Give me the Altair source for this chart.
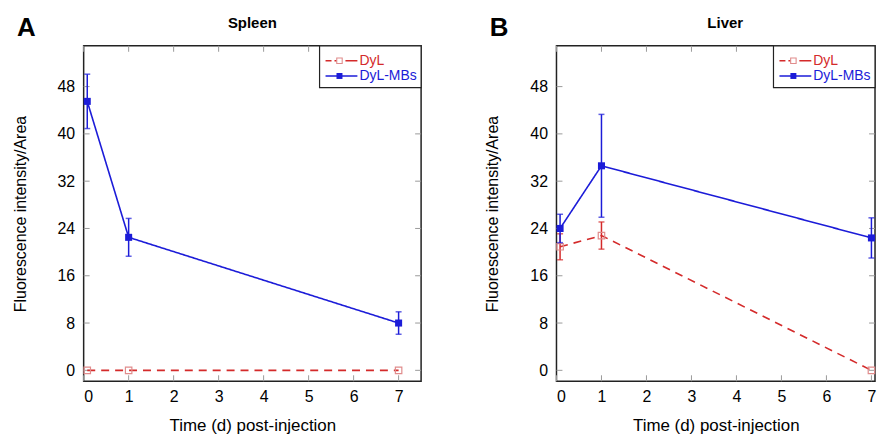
import altair as alt
import pandas as pd

# ---------------- data ----------------
times = [0.08, 1, 7]
series_names = ["DyL", "DyL-MBs"]

spleen_dyl = [0.0, 0.0, 0.0]
spleen_dyl_err = [0.0, 0.0, 0.0]
spleen_mbs = [45.5, 22.5, 8.0]
spleen_mbs_err = [4.6, 3.2, 1.9]

liver_dyl = [20.9, 22.8, 0.0]
liver_dyl_err = [2.2, 2.3, 0.0]
liver_mbs = [24.0, 34.6, 22.4]
liver_mbs_err = [2.4, 8.7, 3.4]

x_ticks = [0, 1, 2, 3, 4, 5, 6, 7]
y_ticks = [0, 8, 16, 24, 32, 40, 48]

# ---------------- styles ----------------
FONT = "Liberation Sans"
H = 337
PX_PER_DAY = 339 / 7.5
RED = "#d42a2a"
RED_MARK = "#e08c8c"
BLUE = "#1c1cd8"
TICK = "#9a9a9a"
styles = {
    "DyL": dict(color=RED, mark=RED_MARK, dash=[8, 6], legend_dash=[6, 3, 5, 6, 12], filled=False),
    "DyL-MBs": dict(color=BLUE, mark=BLUE, dash=[1, 0], legend_dash=[1, 0], filled=True),
}

yscale = alt.Scale(domain=[-1.85, 54.9], nice=False, zero=False)
xaxis = alt.Axis(values=x_ticks, labelPadding=7, titlePadding=13, format="d", titleFontSize=17)
yaxis = alt.Axis(values=y_ticks, labelPadding=9, titlePadding=29, format="d", titleFontSize=16)


def one_row():
    return alt.Chart(pd.DataFrame({"a": [0]}))


def panel(title, letter, dyl, dyl_err, mbs, mbs_err, W):
    xscale = alt.Scale(domain=[0, W / PX_PER_DAY], nice=False, zero=False)

    def X(f):
        return alt.X(f"{f}:Q", scale=xscale, axis=xaxis, title="Time (d) post-injection")

    def Y(f):
        return alt.Y(f"{f}:Q", scale=yscale, axis=yaxis, title="Fluorescence intensity/Area")

    rows = []
    for name, vals, errs in [("DyL", dyl, dyl_err), ("DyL-MBs", mbs, mbs_err)]:
        for t, v, e in zip(times, vals, errs):
            rows.append(dict(series=name, t=t, v=v, lo=v - e, hi=v + e, err=e))
    df = pd.DataFrame(rows)
    base = alt.Chart(df)
    layers = []

    # inward ticks on all four sides
    yt = alt.Chart(pd.DataFrame({"v": y_ticks}))
    xt = alt.Chart(pd.DataFrame({"v": x_ticks}))
    layers.append(yt.mark_rule(color=TICK, strokeWidth=1).encode(y=Y("v"), x=alt.value(0), x2=alt.value(6)))
    layers.append(yt.mark_rule(color=TICK, strokeWidth=1).encode(y=Y("v"), x=alt.value(W - 6), x2=alt.value(W)))
    layers.append(xt.mark_rule(color=TICK, strokeWidth=1).encode(x=X("v"), y=alt.value(H - 6), y2=alt.value(H)))
    layers.append(xt.mark_rule(color=TICK, strokeWidth=1).encode(x=X("v"), y=alt.value(0), y2=alt.value(6)))

    for name in series_names:
        s = styles[name]
        sub = base.transform_filter(alt.datum.series == name)
        eb = sub.transform_filter(alt.datum.err > 0)
        layers.append(eb.mark_rule(color=s["color"], strokeWidth=1.5).encode(x=X("t"), y=Y("lo"), y2="hi:Q"))
        layers.append(eb.mark_tick(color=s["color"], size=6, thickness=1.5, orient="horizontal").encode(x=X("t"), y=Y("lo")))
        layers.append(eb.mark_tick(color=s["color"], size=6, thickness=1.5, orient="horizontal").encode(x=X("t"), y=Y("hi")))
        layers.append(sub.mark_line(color=s["color"], strokeWidth=1.6, strokeDash=s["dash"]).encode(x=X("t"), y=Y("v")))
        if s["filled"]:
            layers.append(sub.mark_point(shape="square", filled=True, color=s["mark"], size=50, opacity=1).encode(x=X("t"), y=Y("v")))
        else:
            layers.append(sub.mark_point(shape="square", filled=False, color=s["mark"], size=42, strokeWidth=1.2, opacity=1).encode(x=X("t"), y=Y("v")))

    # legend box in the top-right corner
    R = W
    layers.append(one_row().mark_rect(fill="white", stroke="#222", strokeWidth=1.2).encode(
        x=alt.value(R - 102), x2=alt.value(R), y=alt.value(0), y2=alt.value(42)))
    for i, name in enumerate(series_names):
        s = styles[name]
        yy = 15 + 15.3 * i
        layers.append(one_row().mark_rule(color=s["color"], strokeWidth=1.6, strokeDash=s["legend_dash"]).encode(
            x=alt.value(R - 96), x2=alt.value(R - 64), y=alt.value(yy)))
        layers.append(one_row().mark_point(shape="square", filled=s["filled"], color=s["mark"],
                                           fill="white" if not s["filled"] else s["mark"],
                                           size=36 if s["filled"] else 30, opacity=1, strokeWidth=1.1).encode(
            x=alt.value(R - 82), y=alt.value(yy)))
        layers.append(one_row().mark_text(align="left", baseline="middle", font=FONT, fontSize=14, color=s["color"]).encode(
            x=alt.value(R - 62), y=alt.value(yy + 0.5), text=alt.value(name)))

    # panel title and letter
    layers.append(one_row().mark_text(align="center", baseline="alphabetic", font=FONT, fontSize=15, fontWeight="bold", color="black").encode(
        x=alt.value(169.5), y=alt.value(-17.5), text=alt.value(title)))
    layers.append(one_row().mark_text(align="left", baseline="alphabetic", font=FONT, fontSize=26, fontWeight="bold", color="black").encode(
        x=alt.value(-67), y=alt.value(-10), text=alt.value(letter)))

    return alt.layer(*layers).properties(width=W, height=H)


A = panel("Spleen", "A", spleen_dyl, spleen_dyl_err, spleen_mbs, spleen_mbs_err, 339)
B = panel("Liver", "B", liver_dyl, liver_dyl_err, liver_mbs, liver_mbs_err, 320)

chart = alt.hconcat(A, B, spacing=61).properties(
    padding={"left": 3, "top": 5, "right": 0, "bottom": 0}
).configure_axis(
    labelFont=FONT, labelFontSize=16, labelColor="black",
    titleFont=FONT, titleFontWeight="normal", titleColor="black",
    grid=False, ticks=False, domain=False,
).configure_view(stroke="#222", strokeWidth=1.5)

chart.save("out.html", embed_options={"renderer": "svg", "actions": False})
